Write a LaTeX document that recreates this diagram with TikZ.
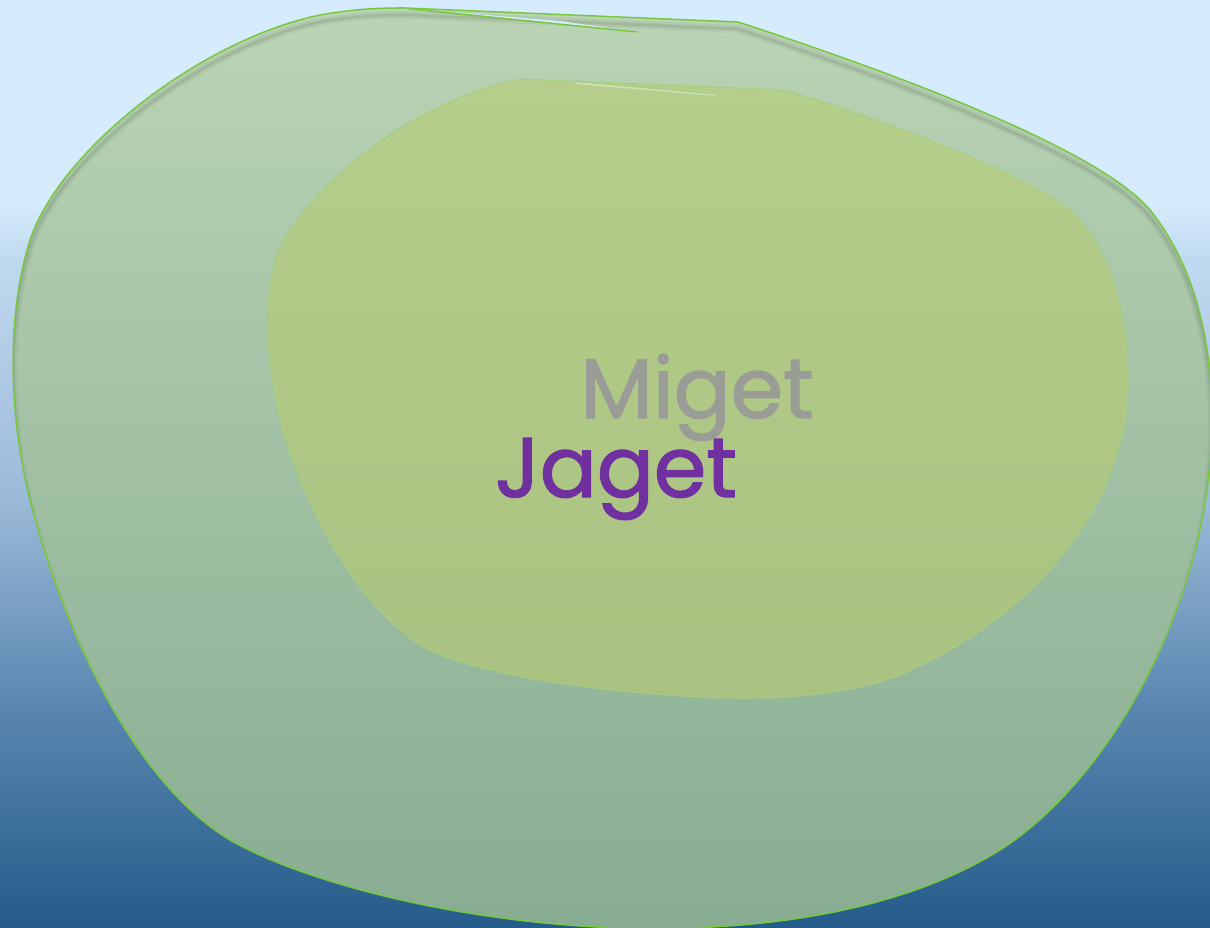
\documentclass[tikz,border=0pt]{standalone}
\usepackage{fontspec}
\usepackage{tikz}
\newfontfamily\handfont[FakeBold=1.6]{Poppins}

\definecolor{skylight}{HTML}{D6EBFD}
\definecolor{skymid}{HTML}{C0D9F0}
\definecolor{skylow}{HTML}{9BB9D8}
\definecolor{skydeep}{HTML}{5A87B0}
\definecolor{skydark}{HTML}{255B8A}
\definecolor{outertop}{HTML}{BAD4B5}
\definecolor{outerbottom}{HTML}{88AC92}
\definecolor{innertop}{HTML}{B6CE8B}
\definecolor{innerbottom}{HTML}{A9C281}
\definecolor{rimgreen}{HTML}{78C83F}
\definecolor{softgreen}{HTML}{A3CF7E}
\definecolor{migetgray}{HTML}{9A9D95}
\definecolor{jagetpurple}{HTML}{7030A0}

\pgfdeclareverticalshading{skyfade}{100bp}{color(0bp)=(skydark); color(25bp)=(skydark);
  color(37bp)=(skydeep); color(48bp)=(skylow); color(61bp)=(skymid);
  color(64bp)=(skylight); color(100bp)=(skylight)}

\newcommand{\outerblob}{(405,8) -- (738,22)
  .. controls (900,75) and (1100,150) .. (1150,210)
  .. controls (1190,260) and (1212,330) .. (1212,420)
  .. controls (1212,600) and (1110,780) .. (1000,850)
  .. controls (900,912) and (760,932) .. (620,928)
  .. controls (450,922) and (300,880) .. (230,840)
  .. controls (130,780) and (60,620) .. (30,500)
  .. controls (10,420) and (5,320) .. (30,240)
  .. controls (60,150) and (200,40) .. (320,15)
  .. controls (360,8) and (385,8) .. (405,8) -- cycle}

\newcommand{\innerblob}{(520,79) -- (785,90)
  .. controls (900,125) and (1040,180) .. (1075,215)
  .. controls (1115,255) and (1130,330) .. (1128,390)
  .. controls (1125,500) and (1040,615) .. (900,675)
  .. controls (840,698) and (760,700) .. (700,697)
  .. controls (600,692) and (480,675) .. (430,650)
  .. controls (360,615) and (300,500) .. (280,420)
  .. controls (262,340) and (262,270) .. (290,230)
  .. controls (330,170) and (420,100) .. (520,79) -- cycle}

\begin{document}
\begin{tikzpicture}[x=0.01cm, y=-0.01cm,
		outer_style/.style={top color=outertop, bottom color=outerbottom},
		inner_style/.style={top color=innertop, bottom color=innerbottom},
		rim_style/.style={draw=rimgreen, line width=0.015cm},
		soft_rim_style/.style={draw=softgreen, line width=0.01cm},
		label_style/.style={font=\handfont\fontsize{24}{28}\selectfont, anchor=base}]

	\useasboundingbox (0,0) rectangle (1210,928);
	\shade[shading=skyfade] (0,0) rectangle (1210,928);

	\shade[outer_style] \outerblob;
	\begin{scope}
		\clip \outerblob;
		\foreach \w in {8,4,2}
			\draw[black, opacity=0.045, line width=\w*0.01cm, shift={(0,7)}] \outerblob;
	\end{scope}
	\fill[skylight] (450,12) -- (637,32) -- (560,21) -- cycle;
	\draw[rim_style] (410,9) -- (637,32);
	\draw[rim_style] \outerblob;

	\shade[inner_style] \innerblob;
	\draw[soft_rim_style] \innerblob;
	\draw[white!30!innertop, line width=0.02cm] (575,83) -- (715,95);
	\draw[softgreen, line width=0.01cm] (575,81) -- (715,94);

	\node[label_style, text=migetgray] (miget) at (697,418) {Miget};
	\node[label_style, text=jagetpurple] (jaget) at (616,497) {Jaget};
\end{tikzpicture}
\end{document}
